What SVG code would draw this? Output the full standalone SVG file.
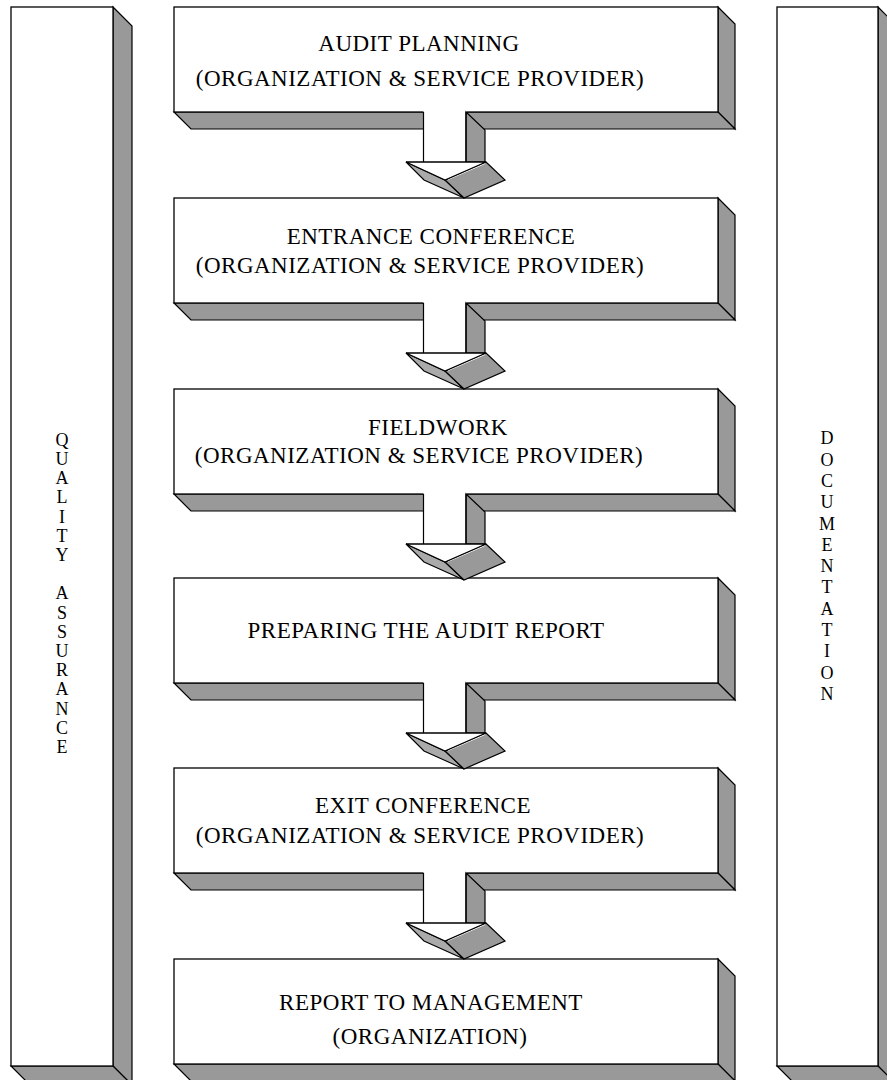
<svg xmlns="http://www.w3.org/2000/svg" width="887" height="1080" viewBox="0 0 887 1080">
<defs>
<style>
.front{fill:#fff;stroke:#000;stroke-width:1.3}
.side{fill:#999;stroke:#000;stroke-width:1.2;stroke-linejoin:miter}
.sliver{fill:#aaa;stroke:#000;stroke-width:1.1}
.hl{fill:none;stroke:#fff;stroke-width:1}
.edge{fill:none;stroke:#000;stroke-width:1.2}
.t{font-family:"Liberation Serif","Times New Roman",serif;font-size:23px;letter-spacing:0.5px;text-anchor:middle;fill:#000}
.v{font-family:"Liberation Serif","Times New Roman",serif;font-size:18px;text-anchor:middle;fill:#000}
</style>
</defs>
<rect width="887" height="1080" fill="#fff"/>

<g id="quality-assurance">
<polygon class="side" points="113,7 132,26 132,1085 113,1066"/>
<polygon class="side" points="11,1066 30,1085 132,1085 113,1066"/>
<rect class="front" x="11" y="7" width="102" height="1059"/>
<text class="v" x="62" y="446">Q</text>
<text class="v" x="62" y="465">U</text>
<text class="v" x="62" y="484">A</text>
<text class="v" x="62" y="503">L</text>
<text class="v" x="62" y="523">I</text>
<text class="v" x="62" y="542">T</text>
<text class="v" x="62" y="561">Y</text>
<text class="v" x="62" y="599">A</text>
<text class="v" x="62" y="619">S</text>
<text class="v" x="62" y="638">S</text>
<text class="v" x="62" y="657">U</text>
<text class="v" x="62" y="676">R</text>
<text class="v" x="62" y="695">A</text>
<text class="v" x="62" y="715">N</text>
<text class="v" x="62" y="734">C</text>
<text class="v" x="62" y="753">E</text>
</g>

<g id="documentation">
<polygon class="side" points="878,7 897,26 897,1085 878,1066"/>
<polygon class="side" points="777,1066 796,1085 897,1085 878,1066"/>
<rect class="front" x="777" y="7" width="101" height="1059"/>
<text class="v" x="827" y="444">D</text>
<text class="v" x="827" y="466">O</text>
<text class="v" x="827" y="487">C</text>
<text class="v" x="827" y="508">U</text>
<text class="v" x="827" y="530">M</text>
<text class="v" x="827" y="551">E</text>
<text class="v" x="827" y="572">N</text>
<text class="v" x="827" y="593">T</text>
<text class="v" x="827" y="615">A</text>
<text class="v" x="827" y="636">T</text>
<text class="v" x="827" y="657">I</text>
<text class="v" x="827" y="679">O</text>
<text class="v" x="827" y="700">N</text>
</g>

<g id="audit-planning">
<polygon class="side" points="718,7 735,24 735,129 718,112"/>
<polygon class="side" points="174,112 191,129 735,129 718,112"/>
<rect class="front" x="174" y="7" width="544" height="105"/>
<text class="t" x="419" y="51">AUDIT PLANNING</text>
<text class="t" x="420" y="86">(ORGANIZATION &amp; SERVICE PROVIDER)</text>
</g>

<g id="entrance-conference">
<polygon class="side" points="718,198 735,215 735,320 718,303"/>
<polygon class="side" points="174,303 191,320 735,320 718,303"/>
<rect class="front" x="174" y="198" width="544" height="105"/>
<text class="t" x="431" y="244">ENTRANCE CONFERENCE</text>
<text class="t" x="420" y="273">(ORGANIZATION &amp; SERVICE PROVIDER)</text>
</g>

<g id="fieldwork">
<polygon class="side" points="718,389 735,406 735,511 718,494"/>
<polygon class="side" points="174,494 191,511 735,511 718,494"/>
<rect class="front" x="174" y="389" width="544" height="105"/>
<text class="t" x="438" y="435">FIELDWORK</text>
<text class="t" x="419" y="463">(ORGANIZATION &amp; SERVICE PROVIDER)</text>
</g>

<g id="preparing-report">
<polygon class="side" points="718,578 735,595 735,700 718,683"/>
<polygon class="side" points="174,683 191,700 735,700 718,683"/>
<rect class="front" x="174" y="578" width="544" height="105"/>
<text class="t" x="426" y="638">PREPARING THE AUDIT REPORT</text>
</g>

<g id="exit-conference">
<polygon class="side" points="718,768 735,785 735,890 718,873"/>
<polygon class="side" points="174,873 191,890 735,890 718,873"/>
<rect class="front" x="174" y="768" width="544" height="105"/>
<text class="t" x="423" y="813">EXIT CONFERENCE</text>
<text class="t" x="420" y="843">(ORGANIZATION &amp; SERVICE PROVIDER)</text>
</g>

<g id="report-to-management">
<polygon class="side" points="718,959 735,976 735,1081 718,1064"/>
<polygon class="side" points="174,1064 191,1081 735,1081 718,1064"/>
<rect class="front" x="174" y="959" width="544" height="105"/>
<text class="t" x="431" y="1010">REPORT TO MANAGEMENT</text>
<text class="t" x="430" y="1044">(ORGANIZATION)</text>
</g>

<g id="connectors">
<g id="arrow1" transform="translate(0,112)">
<rect x="423.5" y="-1" width="43" height="51.5" fill="#fff"/>
<polygon class="side" points="466,0 485,18 485,50 466,50"/>
<path class="edge" d="M423.5,0 V50 M466,0 V50"/>
<polygon class="sliver" points="406,50 445,68 464,86 424,68"/>
<polygon class="side" points="445,68 486,50 505,68 464,86"/>
<polyline class="hl" points="448,67.5 485,51.5"/>
<polygon class="front" points="406,50 486,50 445,68"/>
</g>
<g id="arrow2" transform="translate(0,303)">
<rect x="423.5" y="-1" width="43" height="51.5" fill="#fff"/>
<polygon class="side" points="466,0 485,18 485,50 466,50"/>
<path class="edge" d="M423.5,0 V50 M466,0 V50"/>
<polygon class="sliver" points="406,50 445,68 464,86 424,68"/>
<polygon class="side" points="445,68 486,50 505,68 464,86"/>
<polyline class="hl" points="448,67.5 485,51.5"/>
<polygon class="front" points="406,50 486,50 445,68"/>
</g>
<g id="arrow3" transform="translate(0,494)">
<rect x="423.5" y="-1" width="43" height="51.5" fill="#fff"/>
<polygon class="side" points="466,0 485,18 485,50 466,50"/>
<path class="edge" d="M423.5,0 V50 M466,0 V50"/>
<polygon class="sliver" points="406,50 445,68 464,86 424,68"/>
<polygon class="side" points="445,68 486,50 505,68 464,86"/>
<polyline class="hl" points="448,67.5 485,51.5"/>
<polygon class="front" points="406,50 486,50 445,68"/>
</g>
<g id="arrow4" transform="translate(0,683)">
<rect x="423.5" y="-1" width="43" height="51.5" fill="#fff"/>
<polygon class="side" points="466,0 485,18 485,50 466,50"/>
<path class="edge" d="M423.5,0 V50 M466,0 V50"/>
<polygon class="sliver" points="406,50 445,68 464,86 424,68"/>
<polygon class="side" points="445,68 486,50 505,68 464,86"/>
<polyline class="hl" points="448,67.5 485,51.5"/>
<polygon class="front" points="406,50 486,50 445,68"/>
</g>
<g id="arrow5" transform="translate(0,873)">
<rect x="423.5" y="-1" width="43" height="51.5" fill="#fff"/>
<polygon class="side" points="466,0 485,18 485,50 466,50"/>
<path class="edge" d="M423.5,0 V50 M466,0 V50"/>
<polygon class="sliver" points="406,50 445,68 464,86 424,68"/>
<polygon class="side" points="445,68 486,50 505,68 464,86"/>
<polyline class="hl" points="448,67.5 485,51.5"/>
<polygon class="front" points="406,50 486,50 445,68"/>
</g>
</g>
</svg>
